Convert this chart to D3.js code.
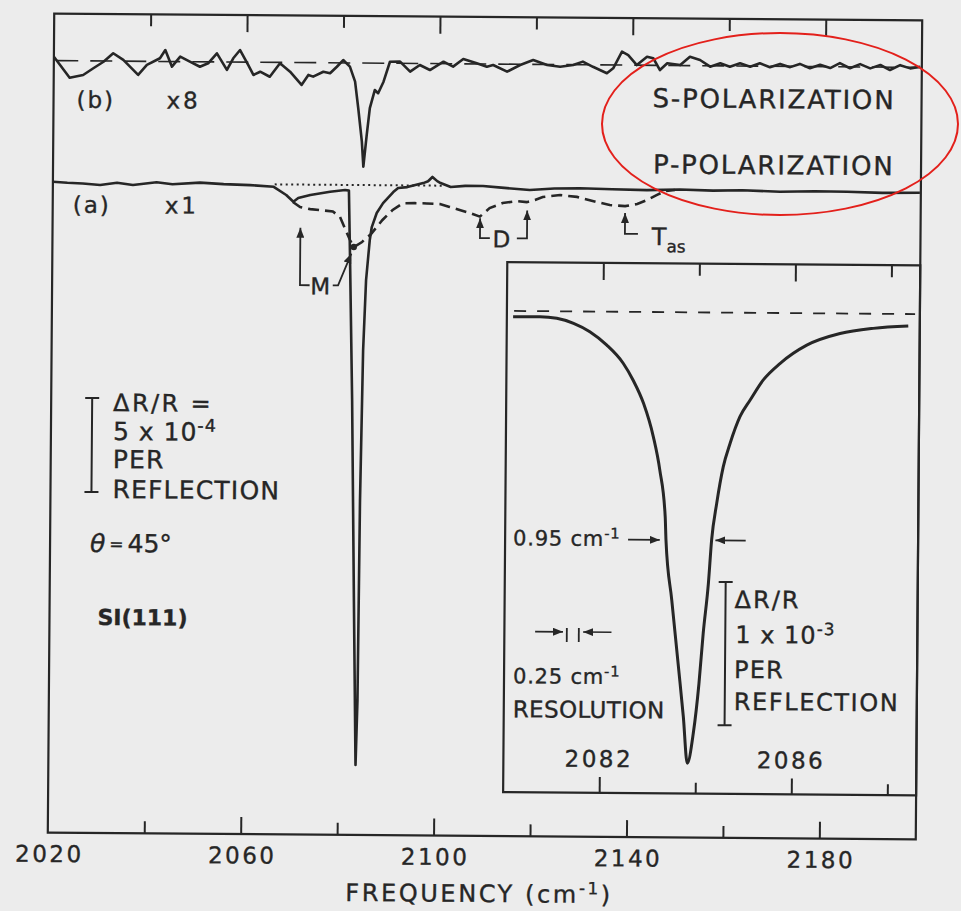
<!DOCTYPE html>
<html>
<head>
<meta charset="utf-8">
<script src="https://cdn.jsdelivr.net/npm/d3@7"></script>
<style>
body { margin: 0; background: #ececec; }
svg { display: block; }
text { font-family: "DejaVu Sans", sans-serif; fill: #262626; stroke: #262626; stroke-width: 0.35px; }
</style>
</head>
<body>
<svg width="961" height="911"></svg>
<script>
// ---- data ----
// frequency axis (cm-1)
var mainMajorTicks = [2060, 2100, 2140, 2180];
var mainMinorTicks = [2040, 2080, 2120, 2160];
var mainTickLabels = [2020, 2060, 2100, 2140, 2180];
var insetMajorTicks = [2082, 2086];
var insetMinorTicks = [2084, 2088];
var insetTickLabels = [2082, 2086];

// (a) p-polarization, x1, solid : [freq, dR/R in 1e-4]
var pPolSolid = [
	[2020.0, 0.05], [2023.0, 0.0], [2026.2, -0.03], [2029.8, -0.11], [2033.3, 0.02],
	[2036.6, -0.09], [2041.5, 0.06], [2044.8, -0.04], [2050.5, 0.06], [2055.4, -0.01],
	[2060.9, -0.05], [2065.8, -0.13], [2068.4, -0.56], [2069.9, -0.92], [2070.9, -0.72],
	[2073.4, -0.55], [2077.5, -0.37], [2080.6, -0.27], [2081.4, -0.30], [2081.7, -3.46],
	[2082.4, -11.4], [2083.1, -22.1], [2083.7, -30.85], [2084.0, -27.4], [2084.2, -16.8],
	[2084.6, -8.8], [2085.1, -5.05], [2085.8, -2.92], [2086.2, -2.23], [2087.2, -1.48],
	[2088.5, -0.95], [2090.6, -0.36], [2091.6, -0.14], [2093.5, -0.09], [2096.8, 0.13],
	[2097.8, 0.23], [2098.7, 0.46], [2099.7, 0.24], [2100.4, 0.14], [2102.5, -0.07],
	[2105.5, 0.0], [2109.2, 0.0], [2113.0, -0.08], [2118.9, -0.19], [2124.0, -0.10],
	[2129.3, -0.08], [2136.0, -0.12], [2143.2, -0.15], [2150.0, -0.10], [2156.9, -0.15],
	[2163.0, -0.12], [2170.8, -0.18], [2178.0, -0.14], [2184.7, -0.15], [2192.0, -0.20],
	[2199.8, -0.18]
];

// (a) dashed spectrum : [freq, dR/R in 1e-4]
var pPolDashed = [
	[2069.8, -0.93], [2071.3, -1.20], [2073.4, -1.30], [2075.5, -1.35], [2078.1, -1.42],
	[2079.6, -1.71], [2080.6, -2.29], [2081.7, -2.93], [2082.5, -3.30], [2084.2, -3.03],
	[2085.0, -2.81], [2085.9, -2.65], [2088.4, -1.85], [2090.5, -1.31], [2092.6, -0.95],
	[2095.1, -0.94], [2097.6, -0.95], [2100.3, -0.98], [2102.3, -1.13], [2104.4, -1.29],
	[2106.5, -1.44], [2108.6, -1.63], [2110.6, -1.17], [2113.3, -0.90], [2116.2, -0.79],
	[2118.3, -0.84], [2120.0, -0.72], [2121.6, -0.56], [2125.2, -0.45], [2128.7, -0.54],
	[2132.8, -0.80], [2135.5, -0.96], [2138.7, -1.01], [2141.2, -0.89], [2143.2, -0.68],
	[2145.3, -0.40], [2147.0, -0.19], [2149.0, -0.13]
];

// (b) s-polarization, drawn x8 : [freq, dR/R in 1e-4]
var sPol = [
	[2020.0, 0.026], [2021.3, -0.029], [2023.3, -0.113], [2026.1, -0.094], [2028.2, -0.049],
	[2030.3, -0.005], [2032.3, 0.052], [2034.4, 0.008], [2037.5, -0.091], [2039.3, -0.024],
	[2042.0, 0.021], [2043.1, 0.076], [2044.5, -0.034], [2046.2, 0.033], [2048.2, 0.0],
	[2050.3, -0.033], [2052.0, -0.010], [2053.8, 0.057], [2055.9, -0.053], [2057.2, 0.025],
	[2058.6, 0.080], [2060.3, -0.019], [2061.4, -0.085], [2062.8, -0.063], [2064.8, -0.096],
	[2066.9, -0.006], [2069.0, -0.061], [2071.4, -0.149], [2072.8, -0.082], [2073.8, -0.093],
	[2075.9, -0.060], [2077.3, -0.070], [2078.7, -0.026], [2080.0, 0.019], [2081.4, -0.025],
	[2082.5, -0.124], [2083.2, -0.301], [2084.0, -0.523], [2084.35, -0.689], [2085.0, -0.478],
	[2085.6, -0.300], [2086.6, -0.179], [2087.3, -0.200], [2088.4, -0.123], [2089.7, 0.010],
	[2091.8, 0.011], [2093.9, -0.055], [2095.9, -0.010], [2098.0, -0.043], [2100.8, 0.013],
	[2102.8, -0.019], [2104.9, 0.032], [2107.7, 0.004], [2109.8, -0.018], [2111.1, -0.006],
	[2114.0, -0.050], [2116.7, -0.005], [2119.4, 0.029], [2122.3, -0.003], [2125.0, -0.014],
	[2127.7, -0.002], [2129.7, 0.021], [2131.8, -0.013], [2134.7, -0.055], [2136.0, -0.022],
	[2137.8, 0.089], [2139.1, 0.067], [2140.9, 0.001], [2143.0, 0.057], [2144.3, 0.047],
	[2145.7, -0.031], [2147.2, 0.014], [2149.9, 0.003], [2151.9, 0.059], [2154.0, 0.038],
	[2156.1, -0.006], [2158.2, 0.017], [2160.2, -0.005], [2162.3, 0.018], [2164.4, -0.004],
	[2166.4, 0.019], [2168.5, -0.007], [2170.6, 0.016], [2172.7, -0.005], [2174.7, 0.017],
	[2176.8, -0.011], [2178.9, 0.012], [2181.0, -0.009], [2183.0, 0.024], [2185.1, -0.009],
	[2187.2, 0.019], [2189.3, -0.009], [2191.4, 0.014], [2193.4, -0.019], [2195.5, 0.014],
	[2197.6, -0.007], [2199.7, 0.005]
];

// inset, high resolution scan : [freq, dR/R in 1e-3]
var insetPeak = [
	[2080.13, -0.040], [2080.69, -0.039], [2081.04, -0.049], [2081.39, -0.083], [2081.73, -0.141],
	[2082.08, -0.232], [2082.43, -0.359], [2082.64, -0.477], [2082.86, -0.638], [2083.07, -0.871],
	[2083.21, -1.103], [2083.33, -1.429], [2083.35, -1.592], [2083.48, -2.009], [2083.63, -2.475],
	[2083.74, -2.823], [2083.83, -3.147], [2083.95, -2.938], [2084.06, -2.590], [2084.14, -2.240],
	[2084.24, -1.891], [2084.30, -1.589], [2084.40, -1.332], [2084.53, -1.077], [2084.67, -0.912],
	[2084.87, -0.726], [2085.08, -0.609], [2085.35, -0.468], [2085.70, -0.351], [2086.25, -0.223],
	[2086.94, -0.140], [2087.63, -0.102], [2088.36, -0.084]
];

var sGain = 8;        // trace (b) magnification
var sOffset = 6.49;   // trace (b) vertical offset, 1e-4 units

// ---- drawing ----
var ink = "#262626";
var svg = d3.select("svg");
svg.append("rect").attr("width", 961).attr("height", 911).attr("fill", "#ececec");

var defs = svg.append("defs");
defs.append("marker")
	.attr("id", "head")
	.attr("viewBox", "0 0 10 8")
	.attr("refX", 10).attr("refY", 4)
	.attr("markerWidth", 10).attr("markerHeight", 8)
	.attr("markerUnits", "userSpaceOnUse")
	.attr("orient", "auto")
	.append("path").attr("d", "M0,0L10,4L0,8Z").attr("fill", ink);

// the scanned page is slightly tilted
var g = svg.append("g").attr("transform", "rotate(0.45,485,426)");

var frame = {left: 51, right: 919, top: 17, bottom: 836};
var x = d3.scaleLinear().domain([2020, 2200]).range([frame.left, frame.right]);
var y = d3.scaleLinear().domain([-34.57, 8.99]).range([frame.bottom, frame.top]);

var inset = {left: 506, right: 919, top: 262, bottom: 792};
var ix = d3.scaleLinear().domain([2080, 2088.6]).range([inset.left, inset.right]);
var iy = d3.scaleLinear().domain([-3.359, 0.34]).range([inset.bottom, inset.top]);

function tickRow(yPos, axisFn, scale, vals, len) {
	var a = g.append("g").attr("transform", "translate(0," + yPos + ")")
		.call(axisFn(scale).tickValues(vals).tickSize(-len).tickFormat(""));
	a.select(".domain").remove();
	a.selectAll(".tick line").attr("stroke", ink).attr("stroke-width", 2);
}

function addText(parent, px, py, segs, size, spacing) {
	var t = parent.append("text").attr("x", px).attr("y", py)
		.attr("font-size", size).style("letter-spacing", (spacing || 0) + "px");
	var shift = 0;
	segs.forEach(function(s) {
		var str = typeof s === "string" ? s : s[0];
		var kind = typeof s === "string" ? null : s[1];
		var target = kind === "sup" ? -0.36 * size : kind === "sub" ? 0.3 * size : 0;
		var ts = t.append("tspan").text(str).attr("dy", target - shift);
		if (kind) ts.attr("font-size", size * 0.7);
		shift = target;
	});
	return t;
}

// main frame + ticks
g.append("rect").attr("x", frame.left).attr("y", frame.top)
	.attr("width", frame.right - frame.left).attr("height", frame.bottom - frame.top)
	.attr("fill", "none").attr("stroke", ink).attr("stroke-width", 2.2);
tickRow(frame.bottom, d3.axisBottom, x, mainMajorTicks, 17);
tickRow(frame.bottom, d3.axisBottom, x, mainMinorTicks, 12);
tickRow(frame.top, d3.axisTop, x, mainMajorTicks, 17);
tickRow(frame.top, d3.axisTop, x, mainMinorTicks, 12);

var lab = g.append("g").attr("transform", "translate(0," + frame.bottom + ")")
	.call(d3.axisBottom(x).tickValues(mainTickLabels).tickSize(0).tickPadding(13).tickFormat(d3.format("d")));
lab.select(".domain").remove();
lab.attr("font-size", 23).attr("font-family", null);
lab.selectAll("text").attr("fill", ink).style("letter-spacing", "2.5px").attr("dx", "1.2");

addText(g, 349, 902, ["FREQUENCY (cm", ["-1", "sup"], ")"], 24, 2.6);

// reference lines
var line = d3.line().x(function(d) { return x(d[0]); }).y(function(d) { return y(d[1]); });
var lineS = d3.line().x(function(d) { return x(d[0]); }).y(function(d) { return y(sOffset + sGain * d[1]); });

g.append("path").attr("d", lineS([[2020.5, 0], [2199.5, 0]]))
	.attr("fill", "none").attr("stroke", ink).attr("stroke-width", 1.6).attr("stroke-dasharray", "22,12");
g.append("path").attr("d", line([[2066, 0], [2101, 0]]))
	.attr("fill", "none").attr("stroke", ink).attr("stroke-width", 2).attr("stroke-dasharray", "2,3.5");

// spectra
g.append("path").datum(sPol).attr("d", lineS)
	.attr("fill", "none").attr("stroke", ink).attr("stroke-width", 2.6)
	.attr("stroke-linejoin", "round");
g.append("path").datum(pPolDashed).attr("d", line)
	.attr("fill", "none").attr("stroke", ink).attr("stroke-width", 2.6)
	.attr("stroke-dasharray", "11,6");
g.append("path").datum(pPolSolid).attr("d", line)
	.attr("fill", "none").attr("stroke", ink).attr("stroke-width", 2.6)
	.attr("stroke-linejoin", "round");
g.append("circle").attr("cx", x(2082.5)).attr("cy", y(-3.30)).attr("r", 3.2).attr("fill", ink);

// feature arrows
function arrow(pts) {
	g.append("path").attr("d", line(pts)).attr("fill", "none")
		.attr("stroke", ink).attr("stroke-width", 1.8).attr("marker-end", "url(#head)");
}
arrow([[2073.4, -5.35], [2071.4, -5.35], [2071.4, -2.3]]);
arrow([[2078.2, -5.35], [2079.3, -5.35], [2082.0, -3.65]]);
g.append("text").attr("x", x(2075.6)).attr("y", y(-5.35) + 9).attr("text-anchor", "middle")
	.attr("font-size", 23).text("M");
arrow([[2110.7, -2.77], [2108.65, -2.77], [2108.65, -1.72]]);
arrow([[2116.3, -2.77], [2118.4, -2.77], [2118.4, -1.28]]);
g.append("text").attr("x", x(2113.1)).attr("y", y(-2.77) + 9).attr("text-anchor", "middle")
	.attr("font-size", 23).text("D");
arrow([[2141.4, -2.48], [2138.7, -2.48], [2138.7, -1.38]]);
addText(g, x(2144.3), y(-3.07), ["T", ["as", "sub"]], 24, 0);

// labels
addText(g, 74, 111, ["(b)"], 23, 2);
addText(g, 164, 111, ["x8"], 23, 3);
addText(g, 71, 216, ["(a)"], 23, 2);
addText(g, 163, 216, ["x1"], 23, 3);
addText(g, 650, 106, ["S-POLARIZATION"], 26, 1.8);
addText(g, 651, 172, ["P-POLARIZATION"], 26, 1.8);

// main scale bar
var sbx = x(2028.5);
g.append("path").attr("d",
	"M" + (sbx - 7) + "," + y(-11.44) + "H" + (sbx + 7) +
	"M" + sbx + "," + y(-11.44) + "V" + y(-16.44) +
	"M" + (sbx - 7) + "," + y(-16.44) + "H" + (sbx + 7))
	.attr("fill", "none").attr("stroke", ink).attr("stroke-width", 2);
addText(g, 113, 414, ["\u0394R/R ="], 24, 2.4);
addText(g, 113, 443, ["5 x 10", ["-4", "sup"]], 25, 1);
addText(g, 113, 471, ["PER"], 25, 1.2);
addText(g, 113, 501, ["REFLECTION"], 25, 1.2);
var th = addText(g, 91, 555, [], 25, 0);
th.append("tspan").attr("font-style", "italic").text("\u03b8");
th.append("tspan").attr("font-size", 17).attr("dx", 4).attr("dy", -2).text("=");
th.append("tspan").attr("dx", 4).attr("dy", 2).text("45\u00b0");
addText(g, 99, 628, ["SI(111)"], 22, 0).attr("font-weight", "bold");

// ---- inset ----
g.append("rect").attr("x", inset.left).attr("y", inset.top)
	.attr("width", inset.right - inset.left).attr("height", inset.bottom - inset.top)
	.attr("fill", "none").attr("stroke", ink).attr("stroke-width", 2.2);
tickRow(inset.bottom, d3.axisBottom, ix, insetMajorTicks, 16);
tickRow(inset.bottom, d3.axisBottom, ix, insetMinorTicks, 11);
tickRow(inset.top, d3.axisTop, ix, insetMajorTicks, 17);
tickRow(inset.top, d3.axisTop, ix, insetMinorTicks, 12);
var ilab = g.append("g").attr("transform", "translate(0," + inset.bottom + ")")
	.call(d3.axisTop(ix).tickValues(insetTickLabels).tickSize(0).tickPadding(26).tickFormat(d3.format("d")));
ilab.select(".domain").remove();
ilab.attr("font-size", 23).attr("font-family", null);
ilab.selectAll("text").attr("fill", ink).style("letter-spacing", "2.5px").attr("dx", "-1");

var iline = d3.line().x(function(d) { return ix(d[0]); }).y(function(d) { return iy(d[1]); });
g.append("path").attr("d", iline([[2080.15, 0], [2088.5, 0]]))
	.attr("fill", "none").attr("stroke", ink).attr("stroke-width", 1.8).attr("stroke-dasharray", "12,11");
g.append("path").datum(insetPeak).attr("d", iline.curve(d3.curveMonotoneX))
	.attr("fill", "none").attr("stroke", ink).attr("stroke-width", 3);
iline.curve(d3.curveLinear);

function iarrow(pts) {
	g.append("path").attr("d", iline(pts)).attr("fill", "none")
		.attr("stroke", ink).attr("stroke-width", 1.6).attr("marker-end", "url(#head)");
}
// FWHM
iarrow([[2082.56, -1.59], [2083.22, -1.59]]);
iarrow([[2085.01, -1.59], [2084.38, -1.59]]);
addText(g, 514, 545, ["0.95 cm", ["-1", "sup"]], 21, 0.8);
// resolution
iarrow([[2080.64, -2.237], [2081.22, -2.237]]);
iarrow([[2082.23, -2.237], [2081.64, -2.237]]);
[2081.30, 2081.55].forEach(function(f) {
	g.append("line").attr("x1", ix(f)).attr("x2", ix(f))
		.attr("y1", iy(-2.237) - 4).attr("y2", iy(-2.237) + 10)
		.attr("stroke", ink).attr("stroke-width", 1.8);
});
addText(g, 515, 683, ["0.25 cm", ["-1", "sup"]], 21, 0.8);
addText(g, 515, 717, ["RESOLUTION"], 23, 0.4);
// inset scale bar
var ibx = ix(2084.6);
g.append("path").attr("d",
	"M" + (ibx - 7) + "," + iy(-1.88) + "H" + (ibx + 7) +
	"M" + ibx + "," + iy(-1.88) + "V" + iy(-2.88) +
	"M" + (ibx - 7) + "," + iy(-2.88) + "H" + (ibx + 7))
	.attr("fill", "none").attr("stroke", ink).attr("stroke-width", 2);
addText(g, 736, 606, ["\u0394R/R"], 24, 2);
addText(g, 737, 641, ["1 x 10", ["-3", "sup"]], 24, 1);
addText(g, 736, 676, ["PER"], 24, 1.2);
addText(g, 736, 708, ["REFLECTION"], 24, 1.6);

// red highlight drawn over the scan
svg.append("ellipse").attr("cx", 780).attr("cy", 124).attr("rx", 178).attr("ry", 91)
	.attr("fill", "none").attr("stroke", "#e3201b").attr("stroke-width", 2);
</script>
</body>
</html>
